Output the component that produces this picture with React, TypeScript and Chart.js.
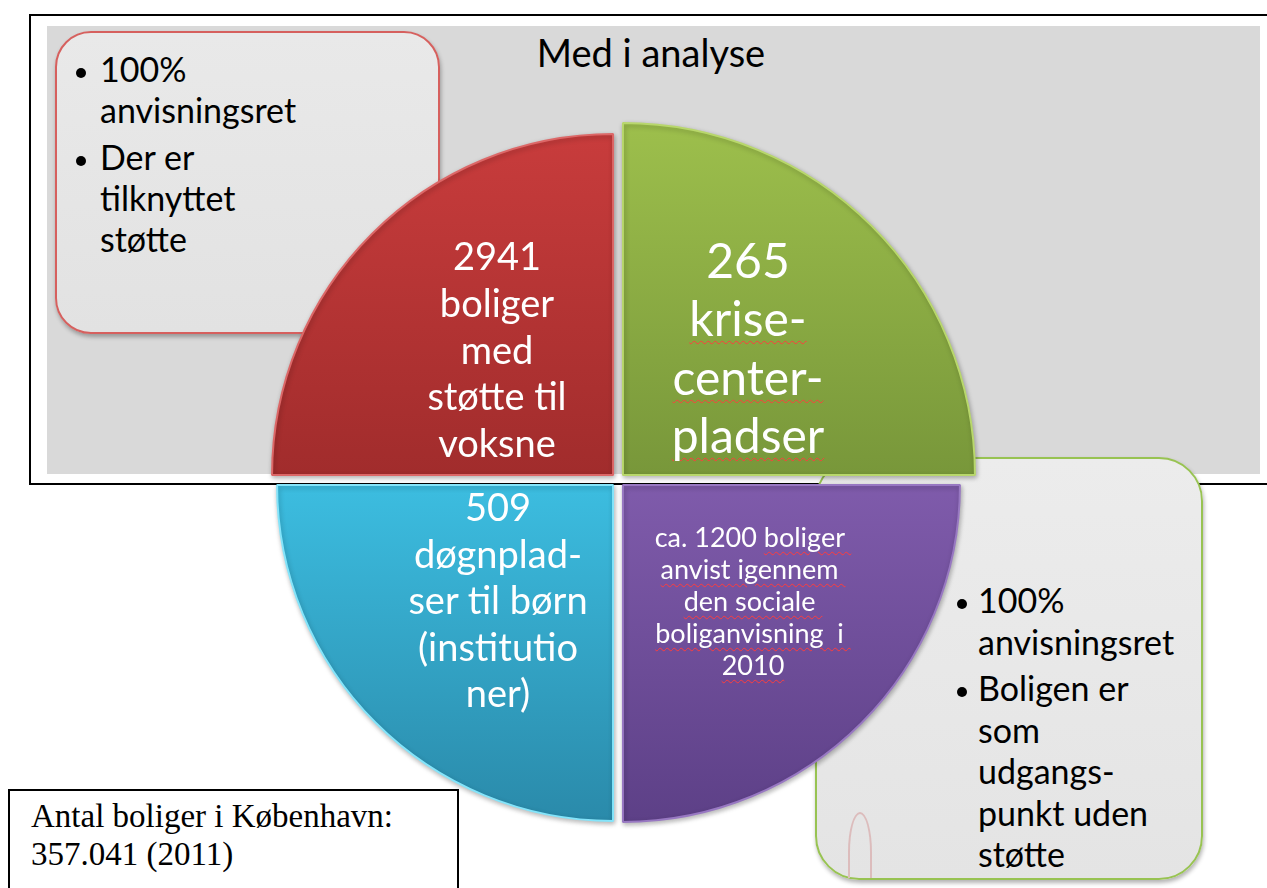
import React, { useEffect, useRef } from 'react';
import { Chart, registerables } from 'chart.js';

Chart.register(...registerables);

// ---------- data ----------
const sliceNames = ['Krisecenterpladser', 'Social boliganvisning', 'Døgnpladser til børn', 'Boliger med støtte til voksne'];
const sliceCounts = [265, 1200, 509, 2941];
const sliceWeights = [1, 1, 1, 1]; // the diagram shows four equal quarters

const greenLabel = [String(sliceCounts[0]), '_krise-_', '_center-_', '_pladser_'];
const purpleLabel = ['ca. ' + sliceCounts[1] + ' _boliger _', '_anvist igennem _', '_den sociale _', '_boliganvisning  i _', '_2010_'];
const cyanLabel = [String(sliceCounts[2]), 'døgnplad-', 'ser til børn', '(institutio', 'ner)'];
const redLabel = [String(sliceCounts[3]), 'boliger', 'med', 'støtte til', 'voksne'];

const titleText = 'Med i analyse';
const leftBoxBullets = [['100%', 'anvisningsret'], ['Der er', 'tilknyttet', 'støtte']];
const rightBoxBullets = [['100%', 'anvisningsret'], ['Boligen er', 'som', 'udgangs-', 'punkt uden', 'støtte']];
const footnoteLines = ['Antal boliger i København:', '357.041 (2011)'];

// ---------- styles ----------
const sliceTop = ['#9dbf4c', '#7f5bab', '#3cbde0', '#c83c3c'];
const sliceBottom = ['#78973a', '#5d4087', '#2a8aaa', '#a12c2c'];
const sliceEdge = ['#b8d76c', '#9878c2', '#84e4fa', '#dc6767'];
const sliceRadius = [352, 337, 336, 341];

const SANS = "Lato, 'Noto Sans', 'DejaVu Sans', sans-serif";
const SERIF = "'Liberation Serif', 'DejaVu Serif', serif";

const wavy: React.CSSProperties = {
  textDecorationLine: 'underline',
  textDecorationStyle: 'wavy',
  textDecorationColor: '#ff3c3c',
  textDecorationThickness: '1px',
  textUnderlineOffset: '4px',
};

function segments(s: string) {
  return s.split('_').map((part, i) =>
    i % 2 === 1 ? (
      <span key={i} style={wavy}>{part}</span>
    ) : (
      <span key={i}>{part}</span>
    )
  );
}

// A line of text whose alphabetic baseline sits exactly at y
function BaseLine(props: {
  text: string;
  x: number;
  y: number;
  size: number;
  align?: 'left' | 'center';
  color?: string;
  family?: string;
}) {
  const { text, x, y, size, align = 'left', color = '#000', family = SANS } = props;
  const H = 120;
  const w = 600;
  return (
    <div
      style={{
        position: 'absolute',
        top: y - H,
        left: align === 'center' ? x - w / 2 : x,
        width: w,
        height: H,
        lineHeight: 0,
        fontSize: size,
        fontFamily: family,
        color,
        textAlign: align,
        whiteSpace: 'pre',
      }}
    >
      <span style={{ display: 'inline-block', width: 0, height: H, verticalAlign: 'baseline' }} />
      {segments(text)}
    </div>
  );
}

function Bullets(props: { paras: string[][]; textX: number; dotX: number; y0: number; step: number; gap: number; size: number }) {
  const { paras, textX, dotX, y0, step, gap, size } = props;
  const out: React.ReactNode[] = [];
  let k = 0;
  paras.forEach((lines, p) => {
    lines.forEach((ln, j) => {
      const y = y0 + k * step + p * gap;
      if (j === 0) {
        out.push(
          <div
            key={'d' + p}
            style={{ position: 'absolute', left: dotX - 5, top: y - 9 - 5, width: 10, height: 10, borderRadius: 5, background: '#000' }}
          />
        );
      }
      out.push(<BaseLine key={'l' + p + '-' + j} text={ln} x={textX} y={y} size={size} />);
      k++;
    });
  });
  return <>{out}</>;
}

function Label(props: { lines: string[]; x: number; y0: number; step: number; size: number }) {
  const { lines, x, y0, step, size } = props;
  return (
    <>
      {lines.map((ln, i) => (
        <BaseLine key={i} text={ln} x={x} y={y0 + i * step} size={size} align="center" color="#ffffff" />
      ))}
    </>
  );
}

const radiusPlugin = {
  id: 'sliceRadius',
  afterDatasetsUpdate(chart: any) {
    const meta = chart.getDatasetMeta(0);
    meta.data.forEach((arc: any, i: number) => {
      arc.outerRadius = sliceRadius[i];
    });
  },
  beforeDatasetsDraw(chart: any) {
    const ctx = chart.ctx;
    ctx.save();
    ctx.shadowColor = 'rgba(0,0,0,0.28)';
    ctx.shadowBlur = 5;
    ctx.shadowOffsetX = 1;
    ctx.shadowOffsetY = 2;
  },
  afterDatasetsDraw(chart: any) {
    chart.ctx.restore();
  },
};

export default function App() {
  const canvasRef = useRef<HTMLCanvasElement | null>(null);

  useEffect(() => {
    const canvas = canvasRef.current;
    if (!canvas) return;
    const chart = new Chart(canvas, {
      type: 'pie',
      data: {
        labels: sliceNames,
        datasets: [
          {
            data: sliceWeights,
            backgroundColor: (ctx: any) => {
              const c = ctx.chart;
              const a = c.chartArea;
              const i = ctx.dataIndex ?? 0;
              if (!a) return sliceTop[i];
              const cy = (a.top + a.bottom) / 2;
              const r = sliceRadius[i];
              const isTop = i === 0 || i === 3;
              const y0 = isTop ? cy - r : cy;
              const y1 = isTop ? cy : cy + r;
              const g = c.ctx.createLinearGradient(0, y0, 0, y1);
              g.addColorStop(0, sliceTop[i]);
              g.addColorStop(1, sliceBottom[i]);
              return g;
            },
            borderColor: sliceEdge,
            borderWidth: 2,
            offset: 28,
            hoverOffset: 0,
          },
        ],
      },
      options: {
        responsive: false,
        animation: false,
        events: [],
        radius: 340,
        layout: { padding: 0 },
        plugins: {
          legend: { display: false },
          tooltip: { enabled: false },
        },
      } as any,
      plugins: [radiusPlugin],
    });
    return () => chart.destroy();
  }, []);

  return (
    <div
      style={{
        position: 'absolute',
        left: 0,
        top: 0,
        width: 1267,
        height: 888,
        overflow: 'hidden',
        background: '#ffffff',
        fontFamily: SANS,
      }}
    >
      {/* outer frame */}
      <div
        style={{
          position: 'absolute',
          left: 29,
          top: 14,
          width: 1300,
          height: 471,
          border: '2px solid #000',
          boxSizing: 'border-box',
        }}
      />
      <div style={{ position: 'absolute', left: 47, top: 26, width: 1213, height: 448, background: '#d9d9d9' }} />
      <BaseLine text={titleText} x={651} y={67} size={38} align="center" />

      {/* top-left box */}
      <div
        style={{
          position: 'absolute',
          left: 55,
          top: 31,
          width: 385,
          height: 303,
          borderRadius: 36,
          border: '2px solid #d6605e',
          boxSizing: 'border-box',
          background: 'linear-gradient(#e9e9e9, #e2e2e2)',
          boxShadow: '1px 3px 4px rgba(0,0,0,0.3)',
        }}
      />
      <Bullets paras={leftBoxBullets} textX={100} dotX={81} y0={82} step={41} gap={6} size={34} />

      {/* bottom-right box */}
      <div
        style={{
          position: 'absolute',
          left: 815,
          top: 457,
          width: 388,
          height: 423,
          borderRadius: 44,
          border: '2px solid #98c352',
          boxSizing: 'border-box',
          background: 'linear-gradient(#ececec, #e4e4e4)',
          boxShadow: '1px 3px 4px rgba(0,0,0,0.3)',
        }}
      />
      <div
        style={{
          position: 'absolute',
          left: 848,
          top: 812,
          width: 24,
          height: 66,
          border: '2px solid #dcbcbc',
          borderBottom: 'none',
          boxSizing: 'border-box',
          borderRadius: '12px 12px 0 0 / 40px 40px 0 0',
        }}
      />
      <Bullets paras={rightBoxBullets} textX={978} dotX={962} y0={613} step={41.5} gap={5} size={34} />

      {/* bottom-left note */}
      <div
        style={{
          position: 'absolute',
          left: 8,
          top: 789,
          width: 451,
          height: 120,
          border: '2px solid #000',
          boxSizing: 'border-box',
          background: '#fff',
        }}
      />
      {footnoteLines.map((ln, i) => (
        <BaseLine key={i} text={ln} x={31} y={827 + i * 38} size={33} family={SERIF} />
      ))}

      {/* pie */}
      <canvas
        ref={canvasRef}
        width={740}
        height={740}
        style={{ position: 'absolute', left: 248, top: 110, width: 740, height: 740 }}
      />

      {/* slice labels */}
      <Label lines={redLabel} x={497} y0={270} step={46.8} size={38} />
      <Label lines={greenLabel} x={748} y0={278} step={58.3} size={48} />
      <Label lines={cyanLabel} x={498} y0={521} step={46.5} size={38} />
      <Label lines={purpleLabel} x={753} y0={547} step={32} size={27} />
    </div>
  );
}
